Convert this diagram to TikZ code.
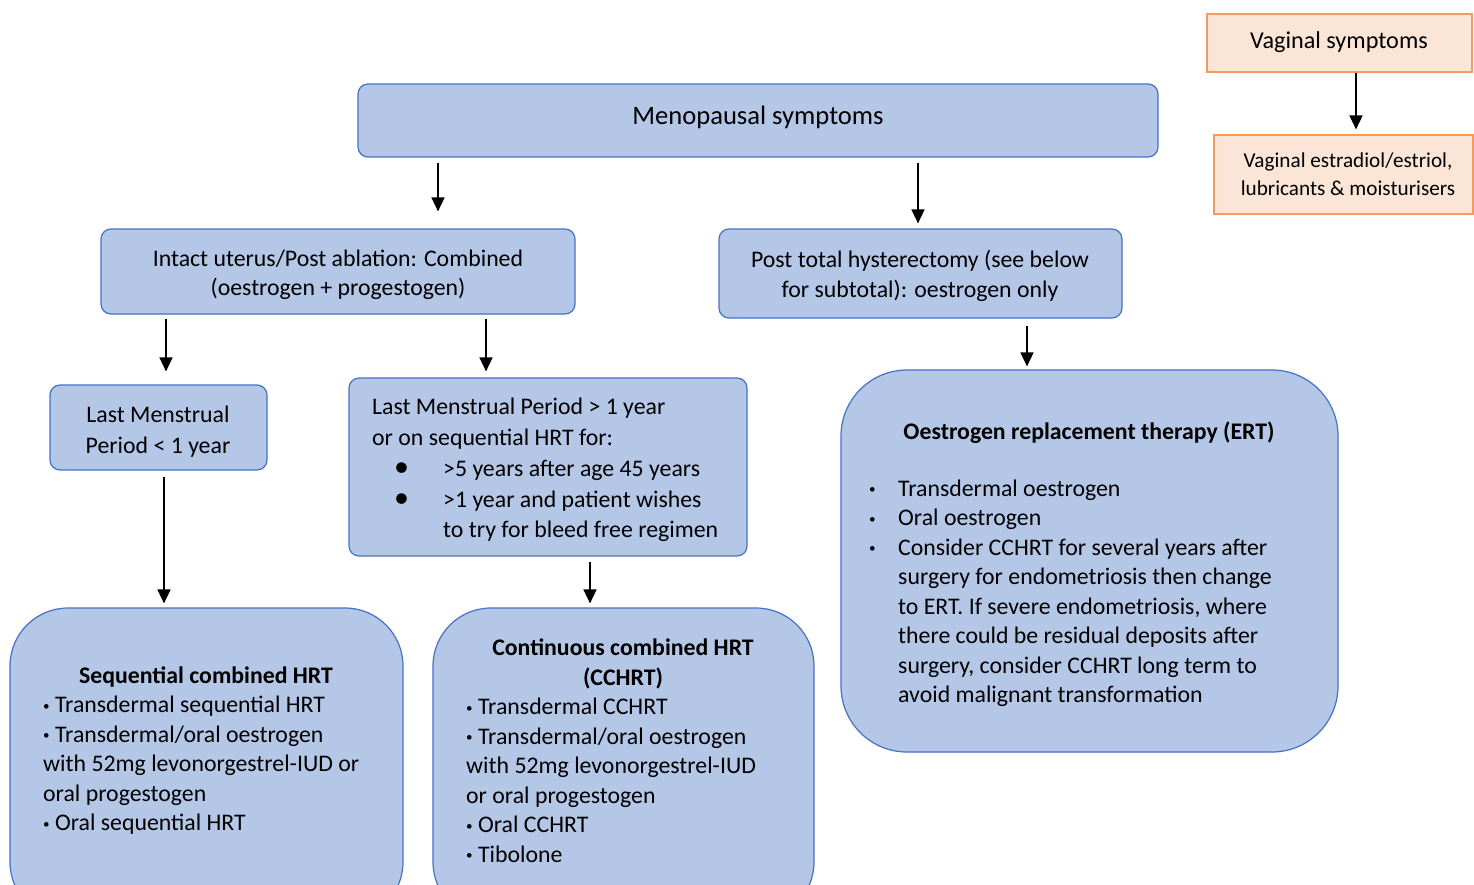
\documentclass[tikz,border=0pt]{standalone}
\usepackage{fontspec}
\setmainfont{Carlito}
\usetikzlibrary{arrows.meta,positioning}
\definecolor{bfill}{HTML}{B4C7E7}
\definecolor{bdraw}{HTML}{4472C4}
\definecolor{ofill}{HTML}{FBE5D6}
\definecolor{odraw}{HTML}{F19C65}
\tikzset{
  bluebox/.style={draw=bdraw, fill=bfill, line width=1.2pt, rounded corners=10pt, inner sep=0pt},
  bigbox/.style={draw=bdraw, fill=bfill, line width=1.2pt, inner sep=0pt},
  orangebox/.style={draw=odraw, fill=ofill, line width=1.2pt, inner sep=0pt},
  txt/.style={inner sep=0pt, font=\fontsize{23.8}{29.5}\selectfont},
  hdr/.style={inner sep=0pt, font=\bfseries\fontsize{23.8}{30}\selectfont},
  arr/.style={line width=1.5pt, -{Triangle[width=13pt,length=14pt]}},
}
\newcommand{\bigbul}{{\fontsize{30}{0}\selectfont\textbullet}}
\newcommand{\smbul}{\raisebox{2.6pt}{\scalebox{0.55}{\textbullet}}}
\begin{document}
\begin{tikzpicture}[x=1pt,y=-1pt]
\clip (0,0) rectangle (1474,884);
\fill[white] (0,0) rectangle (1474,884);

% boxes
\node[orangebox, minimum width=265pt, minimum height=58pt] (vag) at (1339.5,43) {};
\node[orangebox, minimum width=259pt, minimum height=79pt] (vagtx) at (1343.5,174.5) {};
\node[bluebox, minimum width=800pt, minimum height=73pt] (meno) at (758,120.5) {};
\node[bluebox, minimum width=474pt, minimum height=85pt] (intact) at (338,271.5) {};
\node[bluebox, minimum width=403pt, minimum height=89pt] (hyst) at (920.5,273.5) {};
\node[bluebox, minimum width=217pt, minimum height=85pt] (lmpa) at (158.5,427.5) {};
\node[bluebox, minimum width=398pt, minimum height=178pt] (lmpb) at (548,467) {};
\node[bigbox, rounded corners=58pt, minimum width=393pt, minimum height=312pt] (seq) at (206.5,764) {};
\node[bigbox, rounded corners=58pt, minimum width=381pt, minimum height=312pt] (cch) at (623.5,764) {};
\node[bigbox, rounded corners=66pt, minimum width=497pt, minimum height=382pt] (ert) at (1089.5,561) {};

% texts
\node[txt, font=\fontsize{24.2}{28}\selectfont] (tvag) at (1339,42) {Vaginal symptoms};
\node[txt, align=center, font=\fontsize{21.2}{28}\selectfont] (tvagtx) at (1348,174) {Vaginal estradiol/estriol,\\lubricants \& moisturisers};
\node[txt, font=\fontsize{26.6}{30}\selectfont] (tmeno) at (758,117) {Menopausal symptoms};
\node[txt, align=center] (tintact) at (338,275) {Intact uterus/Post ablation: Combined\\(oestrogen + progestogen)};
\node[txt, align=center] (thyst) at (920,276) {Post total hysterectomy (see below\\for subtotal): oestrogen only};
\node[txt, align=center, font=\fontsize{23.8}{31}\selectfont] (tlmpa) at (158,432) {Last Menstrual\\Period < 1 year};
\node[txt, align=left, anchor=west, font=\fontsize{23.8}{30.8}\selectfont] (tlmpb) at (372,470) {Last Menstrual Period > 1 year\\or on sequential HRT for:\\
\hspace*{22pt}\makebox[49pt][l]{\bigbul}>5 years after age 45 years\\
\hspace*{22pt}\makebox[49pt][l]{\bigbul}>1 year and patient wishes\\
\hspace*{71pt}to try for bleed free regimen};
\node[hdr] (tseqh) at (206,676.5) {Sequential combined HRT};
\node[txt, align=left, anchor=west] (tseq) at (43,765.5) {\smbul\ Transdermal sequential HRT\\\smbul\ Transdermal/oral oestrogen\\with 52mg levonorgestrel-IUD or\\oral progestogen\\\smbul\ Oral sequential HRT};
\node[hdr, align=center] (tcchh) at (623,663.5) {Continuous combined HRT\\(CCHRT)};
\node[txt, align=left, anchor=west] (tcch) at (466,780.5) {\smbul\ Transdermal CCHRT\\\smbul\ Transdermal/oral oestrogen\\with 52mg levonorgestrel-IUD\\or oral progestogen\\\smbul\ Oral CCHRT\\\smbul\ Tibolone};
\node[hdr] (terth) at (1089,432.5) {Oestrogen replacement therapy (ERT)};
\node[txt, align=left, anchor=west] (tert) at (869,593.5) {\makebox[29pt][l]{\smbul}Transdermal oestrogen\\
\makebox[29pt][l]{\smbul}Oral oestrogen\\
\makebox[29pt][l]{\smbul}Consider CCHRT for several years after\\
\hspace*{29pt}surgery for endometriosis then change\\
\hspace*{29pt}to ERT. If severe endometriosis, where\\
\hspace*{29pt}there could be residual deposits after\\
\hspace*{29pt}surgery, consider CCHRT long term to\\
\hspace*{29pt}avoid malignant transformation};

% connectors
\draw[arr, shorten >=5pt] ([xshift=16.5pt]vag.south) -- ([xshift=12.5pt]vagtx.north);
\draw[arr, shorten <=5pt, shorten >=17pt] ([xshift=-320pt]meno.south) -- ([xshift=100pt]intact.north);
\draw[arr, shorten <=5pt, shorten >=5pt] ([xshift=160pt]meno.south) -- ([xshift=-2.5pt]hyst.north);
\draw[arr, shorten <=4pt, shorten >=13pt] ([xshift=-172pt]intact.south) -- ([xshift=7.5pt]lmpa.north);
\draw[arr, shorten <=4pt, shorten >=6pt] ([xshift=148pt]intact.south) -- ([xshift=-62pt]lmpb.north);
\draw[arr, shorten <=7pt, shorten >=3pt] ([xshift=106.5pt]hyst.south) -- ([xshift=-62.5pt]ert.north);
\draw[arr, shorten <=6pt, shorten >=4pt] ([xshift=5.5pt]lmpa.south) -- ([xshift=-42.5pt]seq.north);
\draw[arr, shorten <=5pt, shorten >=4pt] ([xshift=42pt]lmpb.south) -- ([xshift=-33.5pt]cch.north);
\end{tikzpicture}
\end{document}
